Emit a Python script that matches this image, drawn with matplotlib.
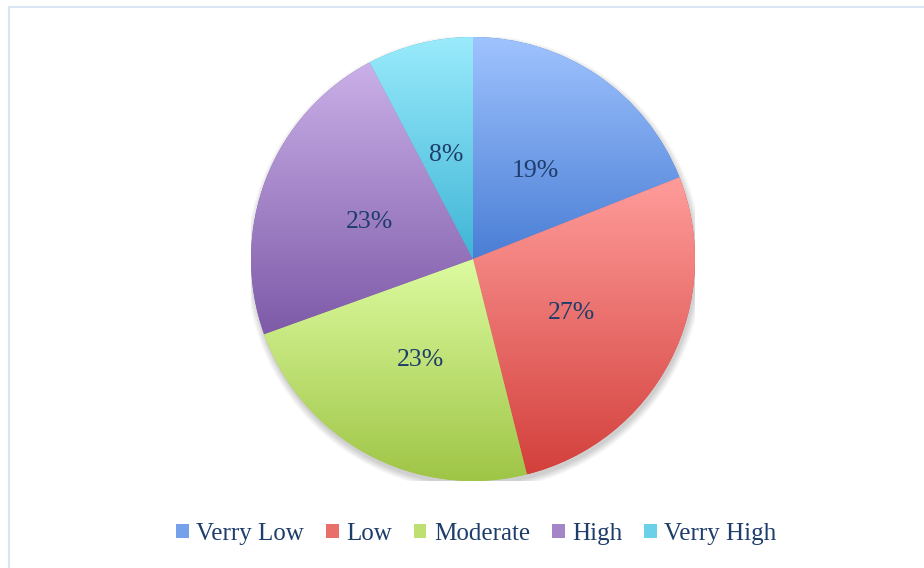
import numpy as np
import matplotlib
matplotlib.use("Agg")
import matplotlib.pyplot as plt
from matplotlib.colors import to_rgb
from matplotlib.patches import Patch, Rectangle, Circle

categories = ["Verry Low", "Low", "Moderate", "High", "Verry High"]
values = [19.0, 27.1, 23.4, 22.8, 7.7]
top_colors = ["#9fc3fe", "#ff9d9b", "#dcfba0", "#cab0e8", "#9aebfc"]
bottom_colors = ["#4a7ed5", "#d3403c", "#9fc546", "#7e5aa8", "#3fb5d6"]
text_color = "#1f3d6b"

W, H = 924, 568
fig = plt.figure(figsize=(W / 100, H / 100), dpi=100)
fig.patch.set_facecolor("white")

# border (top/left visible)
border = Rectangle((8.5 / W, -0.05), 1.2, (H - 6.5) / H + 0.05, transform=fig.transFigure,
                   facecolor="none", edgecolor="#d9e5f3", linewidth=1.5)
fig.patches.append(border)

cx, cy, R = 473, 259, 222
ax = fig.add_axes([(cx - R) / W, (H - cy - R) / H, 2 * R / W, 2 * R / H])
ax.set_axis_off()

# shadow
for k in range(8):
    ax.add_patch(Circle((0.006, -0.018), 1.0 + k * 0.004, facecolor="#000000",
                        alpha=0.025, edgecolor="none", zorder=0))

wedges, _, texts = ax.pie(values, startangle=90, counterclock=False, radius=1,
                          autopct="%.0f%%", pctdistance=0.5,
                          wedgeprops=dict(linewidth=0, edgecolor="none"),
                          textprops=dict(color=text_color, fontsize=18.5,
                                         family="Liberation Serif", ha="center", va="center"))

for i, w in enumerate(wedges):
    w.set_facecolor(bottom_colors[i])
    w.set_zorder(1)
    th = np.radians(np.linspace(w.theta1, w.theta2, 200))
    ys = np.concatenate([np.sin(th), [0.0]])
    ymin, ymax = ys.min(), ys.max()
    c0 = np.array(to_rgb(bottom_colors[i]))
    c1 = np.array(to_rgb(top_colors[i]))
    t = np.linspace(0, 1, 256)[:, None]
    grad = (c0 * (1 - t) + c1 * t)[:, None, :]
    im = ax.imshow(grad, extent=[-1.05, 1.05, ymin, ymax], origin="lower",
                   aspect="auto", zorder=2, interpolation="bilinear")
    im.set_clip_path(w)

for t in texts:
    t.set_zorder(5)
    x, y = t.get_position()
    t.set_position((x, y - 0.015))

ax.set_xlim(-1, 1)
ax.set_ylim(-1, 1)

mid_colors = [tuple((np.array(to_rgb(a)) + np.array(to_rgb(b))) / 2) for a, b in zip(top_colors, bottom_colors)]
handles = [Patch(facecolor=c, edgecolor="none", label=l) for c, l in zip(mid_colors, categories)]
leg = fig.legend(handles=handles, loc="center", bbox_to_anchor=(476.5 / W, 1 - 534 / H), ncol=5,
                 frameon=False, handlelength=0.5, handleheight=0.5, handletextpad=0.3,
                 columnspacing=0.88, prop=dict(family="Liberation Serif", size=18))
for tx in leg.get_texts():
    tx.set_color(text_color)

fig.savefig("out.png", dpi=100, facecolor="white")
